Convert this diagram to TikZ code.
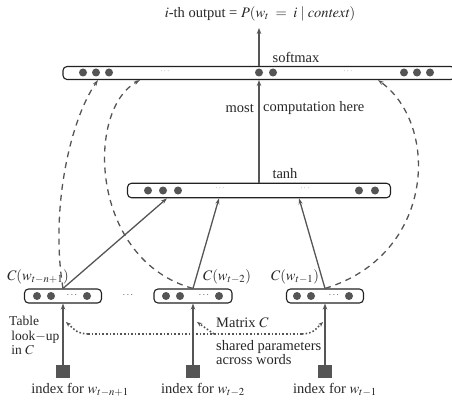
\documentclass[tikz,border=0pt]{standalone}
\usepackage{mathptmx}
\usepackage{fontspec}
\setmainfont{Liberation Serif}
\usetikzlibrary{arrows.meta,calc}
\definecolor{ink}{HTML}{555555}
\definecolor{edge}{HTML}{222222}
\definecolor{faint}{HTML}{9A9A9A}
\begin{document}
\begin{tikzpicture}[x=1pt,y=-1pt,
  txt/.style={font=\fontsize{14.5}{16}\selectfont, inner sep=0pt, text=black!85},
  bar/.style={draw=edge, line width=1.1pt, rounded corners=4pt, fill=white, inner sep=0pt, minimum height=13pt},
  sq/.style={fill=ink, inner sep=0pt, minimum width=14pt, minimum height=13pt},
  thickarr/.style={draw=ink, line width=2pt, -{Stealth[length=6pt,width=4.5pt]}},
  midarr/.style={draw=ink, line width=1.3pt, -{Stealth[length=6pt,width=4pt]}},
  dasharr/.style={draw=ink, line width=1.3pt, dash pattern=on 6pt off 5pt, -{Stealth[length=6pt,width=4pt]}},
  dotline/.style={draw=ink, line width=1.6pt, dotted},
  smalltip/.style={-{Stealth[length=5pt,width=4pt]}},
  bdot/.style={fill=ink},
  fdots/.style={font=\fontsize{9}{10}\selectfont, text=faint, inner sep=0pt},
  ddots/.style={font=\fontsize{10}{10}\selectfont, text=ink, inner sep=0pt}
]
\useasboundingbox (0,0) rectangle (452,401);

% ---------- bars ----------
\node[bar, minimum width=392pt] (sm) at (259,73) {};
\node[bar, minimum width=263pt, minimum height=14.5pt] (th) at (259,190.5) {};
\node[bar, minimum width=77pt, minimum height=14pt] (b1) at (63,296) {};
\node[bar, minimum width=78pt, minimum height=14pt] (b2) at (193,296) {};
\node[bar, minimum width=77pt, minimum height=14pt] (b3) at (325,296) {};

% dots in softmax bar
\foreach \x in {83,96,109,259,273,404,417,430} \fill[bdot] (\x,72.5) circle (4pt);
\node[fdots] (smd1) at (165,72) {$\cdots$};
\node[fdots] (smd2) at (348,72) {$\cdots$};
% dots in tanh bar
\foreach \x in {148,163,178,359,375} \fill[bdot] (\x,190.5) circle (4pt);
\node[fdots] (thd1) at (220,189) {$\cdots$};
\node[fdots] (thd2) at (305,189) {$\cdots$};
% dots in lower boxes
\foreach \x in {37,51,87, 166,180,219, 297,311,349} \fill[bdot] (\x,296) circle (4pt);
\node[ddots] (b1d) at (72,295.5) {$\cdots$};
\node[ddots] (b2d) at (204,295.5) {$\cdots$};
\node[ddots] (b3d) at (334,295.5) {$\cdots$};
\node[ddots] (midd) at (128,295.5) {$\cdots$};

% ---------- labels ----------
\node[txt] (outl) at (260,14) {$i$-th output = $P(w_t\;=\;i\mid \mathit{context})$};
\node[txt] (smlbl) at (296,57.5) {softmax};
\node[txt, anchor=east] (most) at (254,108) {most};
\node[txt, anchor=west] (comp) at (263,108) {computation here};
\node[txt] (thlbl) at (285,174) {tanh};
\node[txt] (c1) at (38,277) {$C(w_{t-n+1})$};
\node[txt] (c2) at (227,277) {$C(w_{t-2})$};
\node[txt] (c3) at (295,277) {$C(w_{t-1})$};
\node[txt, anchor=north west, align=left, font=\fontsize{13.5}{14.5}\selectfont] (tbl) at (9,316) {Table\\\,look$-$up\\\,in $C$};
\node[txt, anchor=west] (mat) at (216,323) {Matrix $C$};
\node[txt, anchor=north west, align=left, font=\fontsize{14.5}{12.5}\selectfont] (shr) at (216,340) {shared parameters\\across words};
\node[txt] (i1) at (80,390) {index for $w_{t-n+1}$};
\node[txt] (i2) at (203,390) {index for $w_{t-2}$};
\node[txt] (i3) at (335,390) {index for $w_{t-1}$};

% ---------- index squares ----------
\node[sq] (s1) at (63,371.5) {};
\node[sq] (s2) at (193,371.5) {};
\node[sq] (s3) at (325,371.5) {};

% ---------- connectors ----------
\draw[thickarr] (sm.north) -- ++(0,-38);
\draw[thickarr] (th.north) -- (sm.south);
\draw[thickarr] (s1.north) -- (b1.south);
\draw[thickarr] (s2.north) -- (b2.south);
\draw[thickarr] (s3.north) -- (b3.south);

\draw[midarr] (b1.north) -- (th.south -| 167,0);
\draw[midarr] (b2.north) -- (th.south -| 219,0);
\draw[midarr] (b3.north) -- (th.south -| 299,0);

\draw[dasharr] (b1.north) .. controls (50,210) and (70,120) .. (sm.south -| 98,0);
\draw[dasharr] (b2.north) .. controls (90,260) and (85,110) .. (sm.south -| 140,0);
\draw[dasharr] (b3.north) .. controls (435,255) and (440,125) .. (sm.south -| 378,0);

% shared-parameter dotted arrows
\coordinate (lk1) at (66,322);
\coordinate (lk2) at (197,322);
\coordinate (lk3) at (323,322);
\coordinate (hl) at (88,334);
\coordinate (hr) at (302,334);
\coordinate (hm) at (214,334);
\draw[dotline, smalltip] (hl) .. controls (78,333) .. (lk1);
\draw[dotline] (hl) -- (hr);
\draw[dotline, smalltip] (hr) .. controls (312,333) .. (lk3);
\draw[dotline, smalltip] (hm) -- (lk2);
\end{tikzpicture}
\end{document}
